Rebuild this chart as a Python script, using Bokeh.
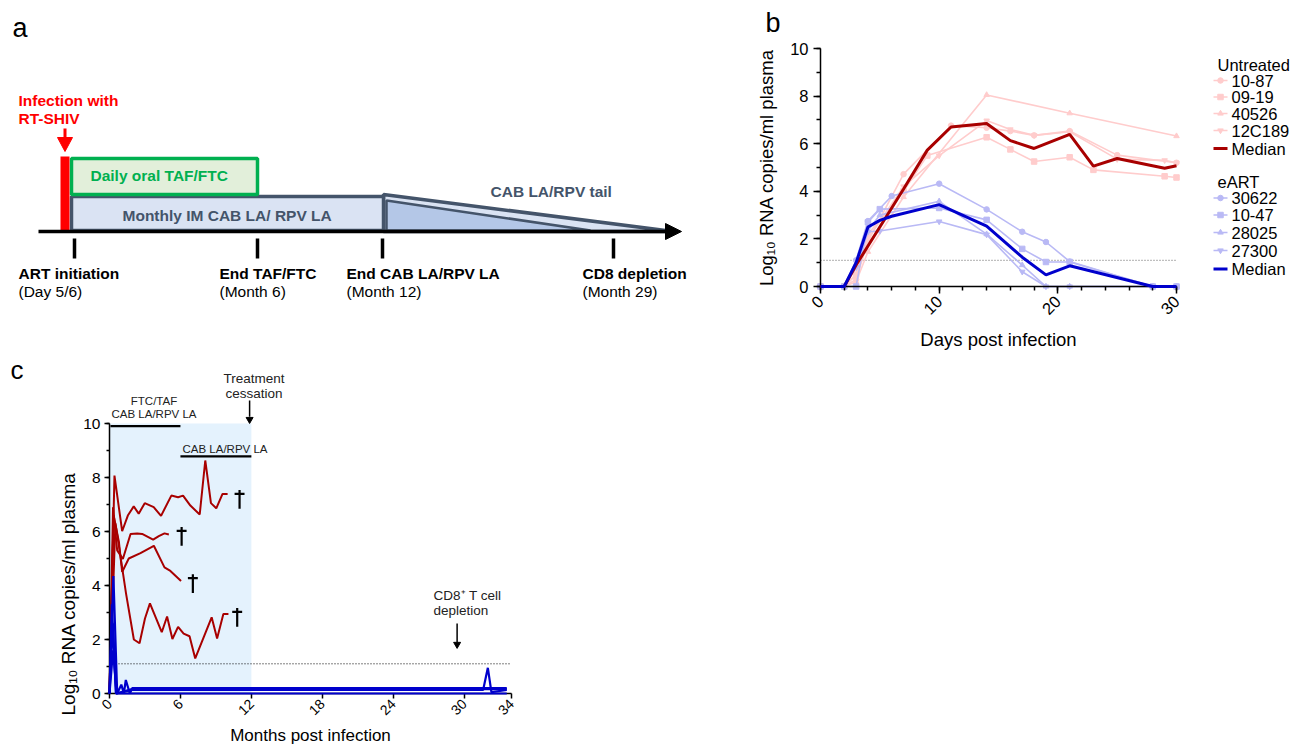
import math
from bokeh.plotting import figure
from bokeh.models import Range1d, SingleIntervalTicker, FixedTicker
from bokeh.layouts import column
from bokeh.embed import file_html
from bokeh.resources import INLINE
from bokeh.core.properties import value

FONT = "Liberation Sans"

# ---------------- Panel b data: days post infection vs log10 RNA copies/ml ----------------
lod = 1.1

u_1087_days = [0, 2, 3, 4, 7, 11, 14, 16, 18, 21, 25, 30]
u_1087_vals = [0, 0, 0.3, 1.9, 4.72, 6.76, 6.67, 6.53, 6.35, 6.53, 5.52, 5.2]
u_0919_days = [0, 2, 3, 4, 7, 9, 14, 16, 18, 21, 23, 29, 30]
u_0919_vals = [0, 0, 0.5, 2.2, 4.0, 5.5, 6.27, 5.76, 5.25, 5.43, 4.9, 4.63, 4.58]
u_40526_days = [0, 2, 3, 4, 7, 14, 21, 30]
u_40526_vals = [0, 0, 0.2, 1.46, 3.76, 8.05, 7.28, 6.32]
u_12C189_days = [0, 2, 3, 4, 7, 10, 14, 16, 18, 21, 25, 29, 30]
u_12C189_vals = [0, 0, 0.5, 2.0, 4.2, 5.5, 6.97, 6.6, 6.35, 6.5, 5.35, 5.3, 5.2]
u_median_days = [0, 2, 3, 4, 5, 7, 9, 11, 14, 16, 18, 21, 23, 25, 29, 30]
u_median_vals = [0, 0, 0.9, 1.7, 2.5, 4.1, 5.73, 6.7, 6.85, 6.13, 5.8, 6.39, 5.06, 5.38, 4.97, 5.07]

e_30622_days = [0, 2, 3, 4, 6, 10, 14, 17, 19, 21, 28, 30]
e_30622_vals = [0, 0, 1.1, 2.75, 3.8, 4.32, 3.24, 2.3, 1.87, 1.05, 0, 0]
e_1047_days = [0, 2, 3, 4, 5, 10, 14, 17, 19, 21, 28, 30]
e_1047_vals = [0, 0, 0, 2.7, 3.25, 3.3, 2.8, 1.58, 1.03, 1.03, 0, 0]
e_28025_days = [0, 2, 3, 4, 5, 10, 14, 17, 19, 21, 28, 30]
e_28025_vals = [0, 0, 0.9, 2.35, 3.0, 3.58, 2.2, 0.9, 0, 0, 0, 0]
e_27300_days = [0, 2, 3, 4, 5, 10, 14, 17, 19, 21, 28, 30]
e_27300_vals = [0, 0, 0.8, 2.3, 2.33, 2.73, 2.18, 0.62, 0, 0, 0, 0]
e_median_days = [0, 2, 3, 4, 5, 6, 10, 14, 17, 19, 21, 28, 30]
e_median_vals = [0, 0, 1.0, 2.5, 2.78, 2.95, 3.44, 2.54, 1.23, 0.49, 0.87, 0, 0]

untreated_labels = ["10-87", "09-19", "40526", "12C189", "Median"]
eart_labels = ["30622", "10-47", "28025", "27300", "Median"]

# ---------------- Panel c data: months post infection vs log10 RNA copies/ml ----------------
r1_months = [0, 0.42, 1.07, 1.55, 2.05, 2.47, 2.98, 3.74, 4.36, 5.23, 5.8, 6.22, 6.84, 7.63, 8.1, 8.58, 9.03, 9.56, 9.99]
r1_vals = [0, 8.07, 6.01, 6.59, 6.93, 6.66, 7.05, 6.9, 6.58, 7.33, 7.27, 7.33, 6.96, 6.63, 8.63, 7.05, 6.86, 7.39, 7.39]
r2_months = [0, 0.3, 0.65, 1.13, 1.78, 2.34, 2.76, 3.69, 4.17, 4.65, 5.02]
r2_vals = [0, 6.9, 5.3, 4.98, 5.91, 5.93, 5.91, 5.7, 5.83, 5.93, 5.89]
r3_months = [0, 0.35, 0.8, 1.07, 1.63, 2.62, 3.75, 4.65, 5.15, 6.05]
r3_vals = [0, 6.6, 5.6, 4.5, 5.0, 5.2, 5.47, 4.67, 4.54, 4.17]
r4_months = [0, 0.5, 0.75, 1.4, 2.06, 2.54, 3.0, 3.42, 4.42, 4.87, 5.32, 5.8, 6.27, 6.77, 7.25, 8.64, 9.1, 9.63, 10.06]
r4_vals = [0, 6.3, 5.6, 3.7, 2.0, 1.86, 2.78, 3.34, 2.27, 2.85, 2.02, 2.47, 2.22, 2.12, 1.3, 2.82, 2.04, 2.94, 2.94]

b1_months = [0, 0.33, 0.65, 1.0, 1.21, 1.38, 1.72, 1.92, 33.6]
b1_vals = [0, 4.35, 0, 0.33, 0, 0.5, 0, 0.2, 0.2]
b2_months = [0, 0.2, 0.55, 1.9, 31.6, 32.0, 32.3, 33.6]
b2_vals = [0, 3.3, 0, 0.13, 0.13, 0.95, 0.05, 0.13]
b3_months = [0, 0.28, 0.55, 33.6]
b3_vals = [0, 2.6, 0, 0]
b4_months = [0, 0.3, 0.6, 1.9, 33.6]
b4_vals = [0, 1.6, 0, 0.16, 0.16]

dagger_months = [11.0, 6.1, 7.05, 10.8]
dagger_vals = [7.34, 5.97, 4.22, 2.97]

oral_period = [0, 6]
la_period = [6, 12]
treatment_end = 12
cd8_depletion = 29.4

# ---------------- colours ----------------
PINK = "#FFCCCC"
LAV = "#B9B9F5"
DRED = "#A80000"
DBLUE = "#0000CC"
SLATE = "#44546A"
GREEN = "#00B050"
PX = dict(x_range_name="px", y_range_name="py")


def style_axis(ax, tick_size, label_size, tick_out=7, minor_out=4):
    ax.axis_line_width = 1.5
    ax.axis_line_color = "black"
    ax.major_tick_line_width = 1.5
    ax.minor_tick_line_width = 1.5
    ax.major_tick_line_color = "black"
    ax.minor_tick_line_color = "black"
    ax.major_tick_in = 0
    ax.major_tick_out = tick_out
    ax.minor_tick_in = 0
    ax.minor_tick_out = minor_out
    ax.major_label_text_font = FONT
    ax.major_label_text_font_size = tick_size
    ax.major_label_text_color = "black"
    ax.axis_label_text_font = FONT
    ax.axis_label_text_font_style = "normal"
    ax.axis_label_text_font_size = label_size
    ax.axis_label_text_color = "black"


def txt(p, xs, ys, texts, size, color="black", bold=False, align="left", baseline="middle", angle=0.0):
    p.text(x=xs, y=ys, text=texts, text_font=value(FONT), text_font_size=size,
           text_font_style="bold" if bold else "normal", text_color=color, text_align=align,
           text_baseline=baseline, angle=angle, **PX)


# ======================= Top figure: panel a (schematic) + panel b =======================
BX = 356 / 30      # px per day
BY = 238 / 10      # px per log unit
TOP_H = 353
top = figure(width=1300, height=TOP_H,
             x_range=Range1d(-820 / BX, (1300 - 820) / BX),
             y_range=Range1d(-(TOP_H - 286) / BY, 10 + 48 / BY),
             extra_x_ranges={"px": Range1d(0, 1300)}, extra_y_ranges={"py": Range1d(TOP_H, 0)},
             output_backend="svg", toolbar_location=None,
             min_border=0, min_border_left=0, min_border_right=0, min_border_top=0, min_border_bottom=0)
top.outline_line_color = None
top.grid.visible = False

# ---- panel a schematic (drawn in pixel space) ----
txt(top, [12], [27], ["a"], "27px")
txt(top, [18, 18], [99.5, 117.5], ["Infection with", "RT-SHIV"], "15.5px", color="#FF0000", bold=True)
top.segment(x0=[64.5], y0=[128], x1=[64.5], y1=[139], line_color="#FF0000", line_width=3, **PX)
top.patch(x=[57, 72, 64.5], y=[137, 137, 151], fill_color="#FF0000", line_color="#FF0000", **PX)
top.patch(x=[383, 673, 383], y=[194, 231, 231], fill_color="#DAE3F3", line_color=SLATE, line_width=3.5, **PX)
top.patch(x=[386, 590, 386], y=[200, 230, 230], fill_color="#B4C7E7", line_color=SLATE, line_width=2.5, **PX)
top.quad(left=[71], right=[383], top=[196], bottom=[230], fill_color="#DAE3F3", line_color=SLATE,
         line_width=3.5, **PX)
top.quad(left=[71], right=[257], top=[158], bottom=[194], fill_color="#E2EFDA", line_color=GREEN,
         line_width=3.5, **PX)
top.quad(left=[60], right=[69], top=[156], bottom=[231], fill_color="#FF0000", line_color=None, **PX)
top.segment(x0=[38], y0=[231], x1=[668], y1=[231], line_color="black", line_width=3.5, **PX)
top.patch(x=[665, 681, 665], y=[223, 231, 239], fill_color="black", line_color="black", **PX)
top.segment(x0=[74, 257, 382, 613], y0=[238] * 4, x1=[74, 257, 382, 613], y1=[258] * 4,
            line_color="black", line_width=3.5, **PX)
txt(top, [90], [175], ["Daily oral TAF/FTC"], "15.5px", color=GREEN, bold=True)
txt(top, [122], [214.5], ["Monthly IM CAB LA/ RPV LA"], "15.5px", color=SLATE, bold=True)
txt(top, [490], [190.5], ["CAB LA/RPV tail"], "15.5px", color=SLATE, bold=True)
txt(top, [18, 219, 346, 582], [272.5] * 4,
    ["ART initiation", "End TAF/FTC", "End CAB LA/RPV LA", "CD8 depletion"], "15.5px", bold=True)
txt(top, [18, 219, 346, 582], [291] * 4, ["(Day 5/6)", "(Month 6)", "(Month 12)", "(Month 29)"], "15.5px")

# ---- panel b ----
txt(top, [765], [22.5], ["b"], "27px")
top.xaxis.fixed_location = 0
top.yaxis.fixed_location = 0
top.xaxis.ticker = SingleIntervalTicker(interval=10, num_minor_ticks=5)
top.yaxis.ticker = SingleIntervalTicker(interval=2, num_minor_ticks=2)
top.xaxis.bounds = (0, 30)
top.yaxis.bounds = (0, 10)
style_axis(top.xaxis[0], "16.5px", "18.5px")
style_axis(top.yaxis[0], "16.5px", "18.5px")
top.xaxis.major_label_orientation = math.pi / 4
top.xaxis.axis_label = "Days post infection"
top.yaxis.axis_label = "Log\u2081\u2080 RNA copies/ml plasma"
top.yaxis.axis_label_standoff = 10
top.xaxis.axis_label_standoff = 6

top.segment(x0=[0], y0=[lod], x1=[30], y1=[lod], line_color="#808080", line_width=1.2, line_dash="1 2")

u_series = [(u_1087_days, u_1087_vals, "circle"), (u_0919_days, u_0919_vals, "square"),
            (u_40526_days, u_40526_vals, "triangle"), (u_12C189_days, u_12C189_vals, "inverted_triangle")]
e_series = [(e_30622_days, e_30622_vals, "circle"), (e_1047_days, e_1047_vals, "square"),
            (e_28025_days, e_28025_vals, "triangle"), (e_27300_days, e_27300_vals, "inverted_triangle")]
for d, v, m in u_series:
    top.line(d, v, line_color=PINK, line_width=1.6)
    top.scatter(d, v, marker=m, size=5.5, fill_color=PINK, line_color=PINK)
for d, v, m in e_series:
    top.line(d, v, line_color=LAV, line_width=1.6)
    top.scatter(d, v, marker=m, size=5.5, fill_color=LAV, line_color=LAV)
top.line(u_median_days, u_median_vals, line_color=DRED, line_width=3, level="annotation")
top.line(e_median_days, e_median_vals, line_color=DBLUE, line_width=3, level="annotation")

# legend
leg_rows_u = [80, 96.5, 113, 130, 148]
leg_rows_e = [197.5, 214.5, 232, 250, 268.5]
txt(top, [1217, 1217], [64.5, 181], ["Untreated", "eART"], "16.5px")
for rows, labels, col, medcol, series in [(leg_rows_u, untreated_labels, PINK, DRED, u_series),
                                         (leg_rows_e, eart_labels, LAV, DBLUE, e_series)]:
    top.segment(x0=[1213] * 4, y0=rows[:4], x1=[1227] * 4, y1=rows[:4], line_color=col, line_width=1.6, **PX)
    for i in range(4):
        top.scatter([1220], [rows[i]], marker=series[i][2], size=5.5, fill_color=col, line_color=col, **PX)
    top.segment(x0=[1213], y0=[rows[4]], x1=[1227], y1=[rows[4]], line_color=medcol, line_width=3, **PX)
    txt(top, [1231] * 5, rows, labels, "16.5px")

# ======================= Bottom figure: panel c =======================
CX = 402 / 34      # px per month
CY = 27.0          # px per log unit
BOT_TOP, BOT_H = 353, 393
bot = figure(width=1300, height=BOT_H,
             x_range=Range1d(-109 / CX, (1300 - 109) / CX),
             y_range=Range1d(-(BOT_TOP + BOT_H - 693) / CY, (693 - BOT_TOP) / CY),
             extra_x_ranges={"px": Range1d(0, 1300)}, extra_y_ranges={"py": Range1d(BOT_TOP + BOT_H, BOT_TOP)},
             output_backend="svg", toolbar_location=None,
             min_border=0, min_border_left=0, min_border_right=0, min_border_top=0, min_border_bottom=0)
bot.outline_line_color = None
bot.grid.visible = False
bot.xaxis.fixed_location = 0
bot.yaxis.fixed_location = 0
bot.xaxis.ticker = FixedTicker(ticks=[0, 6, 12, 18, 24, 30, 34], minor_ticks=[])
bot.yaxis.ticker = SingleIntervalTicker(interval=2, num_minor_ticks=2)
bot.xaxis.bounds = (0, 34)
bot.yaxis.bounds = (0, 10)
style_axis(bot.xaxis[0], "14px", "17px", tick_out=5)
style_axis(bot.yaxis[0], "15.5px", "19px", tick_out=5, minor_out=3)
bot.xaxis.major_label_orientation = math.pi / 4
bot.xaxis.major_label_standoff = 3
bot.yaxis.major_label_standoff = 4
bot.xaxis.axis_label = "Months post infection"
bot.xaxis.axis_label_standoff = 3

txt(bot, [10], [369], ["c"], "26px")
txt(bot, [68], [715], ["Log\u2081\u2080 RNA copies/ml plasma"], "19px", align="left", baseline="middle",
    angle=math.pi / 2)

bot.quad(left=[0], right=[treatment_end], bottom=[0], top=[10], fill_color="#E4F2FD", line_color=None)
bot.segment(x0=[0], y0=[lod], x1=[34], y1=[lod], line_color="black", line_width=1, line_dash="1 2")

for m, v in [(r1_months, r1_vals), (r2_months, r2_vals), (r3_months, r3_vals), (r4_months, r4_vals)]:
    bot.line(m, v, line_color=DRED, line_width=2)
for m, v in [(b3_months, b3_vals), (b4_months, b4_vals), (b2_months, b2_vals), (b1_months, b1_vals)]:
    bot.line(m, v, line_color=DBLUE, line_width=2.2, level="annotation")

# daggers
bot.segment(x0=dagger_months, y0=[v + 0.2 for v in dagger_vals], x1=dagger_months,
            y1=[v - 0.5 for v in dagger_vals], line_color="black", line_width=2.2)
bot.segment(x0=[m - 0.42 for m in dagger_months], y0=[v + 0.05 for v in dagger_vals],
            x1=[m + 0.42 for m in dagger_months], y1=[v + 0.05 for v in dagger_vals],
            line_color="black", line_width=2.2)

# treatment bars and annotations
bot.segment(x0=[oral_period[0] + 0.08], y0=[9.9], x1=[oral_period[1]], y1=[9.9],
            line_color="black", line_width=2.2)
bot.segment(x0=[la_period[0]], y0=[8.78], x1=[la_period[1]], y1=[8.78], line_color="black", line_width=2.2)
txt(bot, [153.5, 153.5], [400.5, 413], ["FTC/TAF", "CAB LA/RPV LA"], "11.5px", color="#222222", align="center")
txt(bot, [182], [448.5], ["CAB LA/RPV LA"], "11.5px", color="#222222")
txt(bot, [253.5, 253.5], [377.5, 393], ["Treatment", "cessation"], "13.5px", color="#222222", align="center")
bot.segment(x0=[treatment_end - 0.15], y0=[10.85], x1=[treatment_end - 0.15], y1=[10.25],
            line_color="black", line_width=1.5)
bot.scatter([treatment_end - 0.15], [10.15], marker="inverted_triangle", size=7, fill_color="black",
            line_color="black")
txt(bot, [433, 433], [594.5, 610], ["CD8\u207a T cell", "depletion"], "13.5px", color="#222222")
bot.segment(x0=[cd8_depletion], y0=[2.59], x1=[cd8_depletion], y1=[1.9], line_color="black", line_width=1.5)
bot.scatter([cd8_depletion], [1.82], marker="inverted_triangle", size=7, fill_color="black", line_color="black")

layout = column(top, bot)
open("out.html", "w").write(file_html(layout, INLINE))
